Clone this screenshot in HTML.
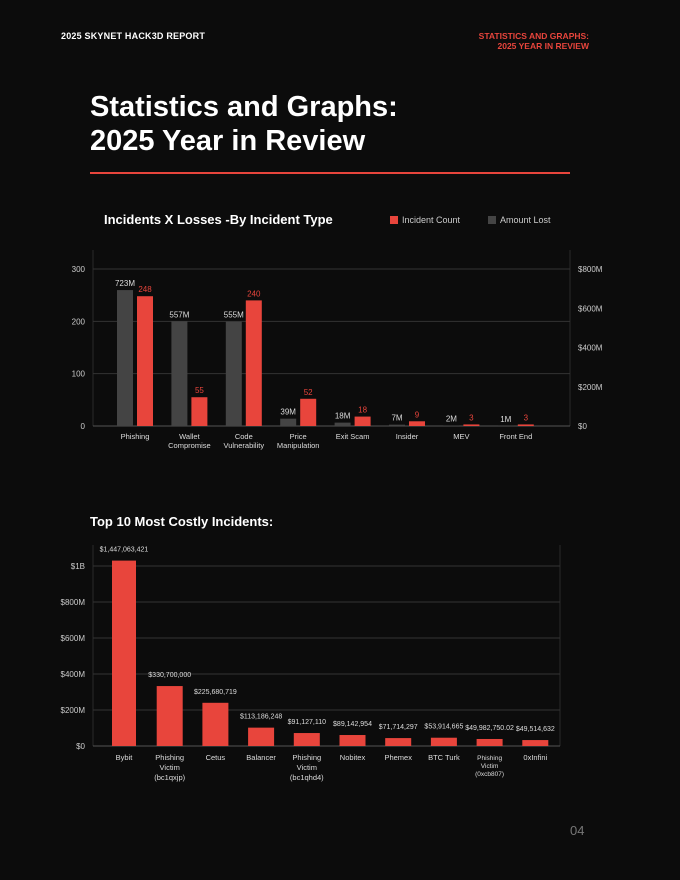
<!DOCTYPE html>
<html><head><meta charset="utf-8"><style>
body{margin:0;width:680px;height:880px;background:#0c0c0c;font-family:"Liberation Sans",sans-serif;color:#fff;position:relative;overflow:hidden}
.a{position:absolute}
</style></head><body>
<div class="a" style="left:61px;top:31px;font-size:9px;font-weight:bold;letter-spacing:.2px">2025 SKYNET HACK3D REPORT</div>
<div class="a" style="right:91px;top:31px;font-size:8.5px;font-weight:bold;color:#e8453c;text-align:right;line-height:10px">STATISTICS AND GRAPHS:<br>2025 YEAR IN REVIEW</div>
<div class="a" style="left:90px;top:90px;font-size:29px;font-weight:bold;line-height:34px">Statistics and Graphs:<br>2025 Year in Review</div>
<div class="a" style="left:90px;top:172px;width:480px;height:2px;background:#e8453c"></div>
<div class="a" style="left:104px;top:212px;font-size:13px;font-weight:bold">Incidents X Losses -By Incident Type</div>
<div class="a" style="left:390px;top:215px;font-size:9px;color:#ccc"><span style="display:inline-block;width:8px;height:8px;background:#e8453c;vertical-align:-1px;margin-right:4px"></span>Incident Count</div>
<div class="a" style="left:488px;top:215px;font-size:9px;color:#ccc"><span style="display:inline-block;width:8px;height:8px;background:#444;vertical-align:-1px;margin-right:4px"></span>Amount Lost</div>
<div class="a" style="left:90px;top:514px;font-size:13px;font-weight:bold">Top 10 Most Costly Incidents:</div>
<div class="a" style="left:570px;top:823px;font-size:13px;color:#777">04</div>
<svg id="c1" class="a" style="left:0;top:0" width="680" height="880"></svg>
<script>
const cats1=["Phishing","Wallet|Compromise","Code|Vulnerability","Price|Manipulation","Exit Scam","Insider","MEV","Front End"];
const counts=[248,55,240,52,18,9,3,3];
const amounts=[723,557,555,39,18,7,2,1];
const leftTicks=[0,100,200,300];
const rightTicks=[0,200,400,600,800];
const cats2=["Bybit","Phishing|Victim|(bc1qxjp)","Cetus","Balancer","Phishing|Victim|(bc1qhd4)","Nobitex","Phemex","BTC Turk","Phishing|Victim|(0xcb807)","0xInfini"];
const losses=[1030,333,240,102,72,61,44,46,39,33];
const lossLabels=["$1,447,063,421","$330,700,000","$225,680,719","$113,186,248","$91,127,110","$89,142,954","$71,714,297","$53,914,665","$49,982,750.02","$49,514,632"];
const ticks2=[0,200,400,600,800,1000];
const ticks2Labels=["$0","$200M","$400M","$600M","$800M","$1B"];

const svg=document.getElementById('c1');const NS="http://www.w3.org/2000/svg";
function el(t,a,txt){const e=document.createElementNS(NS,t);for(const k in a)e.setAttribute(k,a[k]);if(txt!=null)e.textContent=txt;svg.appendChild(e);return e;}
// chart 1
const y1=v=>426-v*157/300, yA=v=>426-v*0.188, yR=v=>426-v*157/800, x1=i=>135+i*54.4;
el('line',{x1:93,y1:250,x2:93,y2:426,stroke:'#2a2a2a'});
el('line',{x1:570,y1:250,x2:570,y2:426,stroke:'#2a2a2a'});
leftTicks.forEach(t=>{
 const g=el('line',{x1:93,x2:570,y1:y1(t),y2:y1(t),stroke:t?'#333':'#555'});
 
 const l=el('text',{x:85,y:y1(t)+3,'text-anchor':'end','font-size':8,fill:'#ccc'},t);
 
});
rightTicks.forEach(t=>{
 const l=el('text',{x:578,y:yR(t)+3,'font-size':8,fill:'#ccc'},'$'+(t?t+'M':'0'));
 
});
cats1.forEach((c,i)=>{
 const cx=x1(i);
 const gb=el('rect',{x:cx-18,y:yA(amounts[i]),width:16,height:426-yA(amounts[i]),fill:'#444'});
 
 const rb=el('rect',{x:cx+2,y:y1(counts[i]),width:16,height:426-y1(counts[i]),fill:'#e8453c'});
 
 const la=el('text',{x:cx-10,y:yA(amounts[i])-4,'text-anchor':'middle','font-size':8,fill:'#ddd'},amounts[i]+'M');
 
 const lc=el('text',{x:cx+10,y:y1(counts[i])-4,'text-anchor':'middle','font-size':8,fill:'#e8453c'},counts[i]);
 
 c.split('|').forEach((p,j)=>{const t=el('text',{x:cx,y:439+j*9,'text-anchor':'middle','font-size':7.5,fill:'#ddd'},p);
 });
});
// chart 2
const y2=v=>746-v*0.18, x2=i=>124+i*45.7;
el('line',{x1:93,y1:545,x2:93,y2:746,stroke:'#2a2a2a'});
el('line',{x1:560,y1:545,x2:560,y2:746,stroke:'#2a2a2a'});
ticks2.forEach((t,i)=>{
 const g=el('line',{x1:93,x2:560,y1:y2(t),y2:y2(t),stroke:t?'#333':'#555'});
 
 const l=el('text',{x:85,y:y2(t)+3,'text-anchor':'end','font-size':8,fill:'#ccc'},ticks2Labels[i]);
 
});
cats2.forEach((c,i)=>{
 const cx=x2(i),w=i==0?24:26;
 const b=el('rect',{x:cx-w/2,y:y2(losses[i]),width:w,height:746-y2(losses[i]),fill:'#e8453c'});
 
 const l=el('text',{x:cx,y:y2(losses[i])-9,'text-anchor':'middle','font-size':7,fill:'#ddd'},lossLabels[i]);
 
 const small=c.indexOf('0xcb')>=0;
 c.split('|').forEach((p,j)=>{const t=el('text',{x:cx,y:760+j*(small?8:10),'text-anchor':'middle','font-size':small?6.5:7.5,fill:'#ddd'},p);
 });
});
</script>
</body></html>
